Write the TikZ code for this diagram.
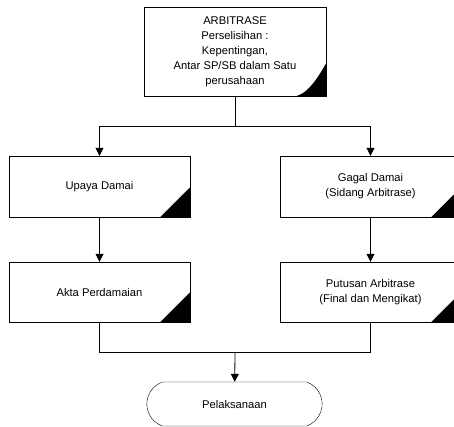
\documentclass[tikz,border=0pt]{standalone}
\usepackage{fontspec}
\setmainfont{Liberation Sans}
\usetikzlibrary{positioning,arrows.meta,shapes.misc}

\begin{document}
\begin{tikzpicture}[
  x=1pt, y=-1pt,
  font=\fontsize{11.2}{15}\selectfont,
  box/.style={draw, align=center, inner sep=2pt, minimum width=181pt, minimum height=61pt},
  term/.style={draw, rounded rectangle, rounded rectangle arc length=140, align=center,
    minimum width=182pt, minimum height=44pt},
  arr/.style={-{Triangle[length=8pt, width=8pt]}},
  line/.style={line width=0.8pt},
  corner/.style={fill=black},
]
\useasboundingbox (0,0) rectangle (454,426);
% top box
\node[box, minimum width=182pt, minimum height=89pt] (arb) at (235,51.5)
  {ARBITRASE\\Perselisihan :\\Kepentingan,\\Antar SP/SB dalam Satu\\perusahaan};
% two branches
\node[box] (damai) at (99.5,186.5) {Upaya Damai};
\node[box, minimum height=60pt] (akta) at (99.5,292) {Akta Perdamaian};
\node[box] (gagal) at (370.5,186.5) {Gagal Damai\\(Sidang Arbitrase)};
\node[box, minimum height=60pt] (putusan) at (370.5,292) {Putusan Arbitrase\\(Final dan Mengikat)};
% end
\node[term] (exec) at (234.5,404) {Pelaksanaan};
% black corners
\foreach \n in {damai,akta,gagal,putusan}
  \fill[corner] (\n.south east) -- ++(-30pt,0pt) -- ++(30pt,30pt) -- cycle;
\fill[corner] (arb.south east) -- ++(-30pt,0pt) .. controls ++(14pt,4pt) and ++(-6pt,-10pt) .. ++(30pt,33pt) -- cycle;
% connectors
\coordinate (split) at (235,126);
\coordinate (merge) at (235,352);
\draw[line] (arb) -- (split);
\draw[line, arr] (split) -| (damai);
\draw[line, arr] (split) -| (gagal);
\draw[line, arr] (damai) -- (akta);
\draw[line, arr] (gagal) -- (putusan);
\draw[line] (akta) |- (merge);
\draw[line] (putusan) |- (merge);
\draw[line, arr] (merge) -- (exec);
\end{tikzpicture}
\end{document}
